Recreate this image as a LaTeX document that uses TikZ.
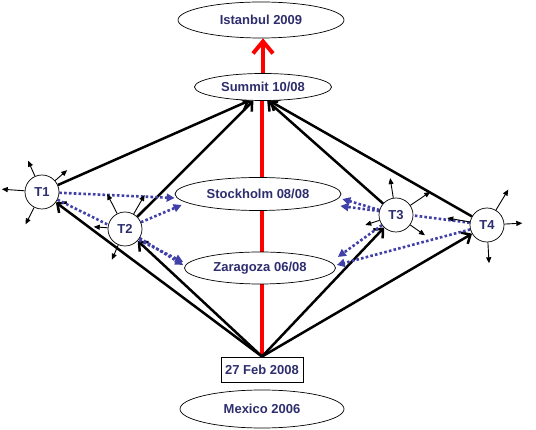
\documentclass[tikz,border=0pt]{standalone}
\usepackage{fontspec}
\setmainfont{Liberation Sans}
\usetikzlibrary{arrows.meta,shapes.geometric,backgrounds,calc}
\definecolor{txt}{RGB}{46,46,110}
\definecolor{dotc}{RGB}{64,64,168}
\begin{document}
\begin{tikzpicture}[x=1pt,y=1pt,
  every node/.style={font=\fontsize{13}{15}\selectfont\bfseries, text=txt},
  ell/.style={ellipse, draw, line width=0.7pt, fill=white, inner sep=0pt},
  team/.style={circle, draw, line width=0.7pt, fill=white, minimum size=34pt, inner sep=0pt},
  datebox/.style={rectangle, draw, line width=0.9pt, fill=white, minimum width=82pt, minimum height=25pt, inner sep=0pt},
  thickarrow/.style={line width=2.5pt, -{Straight Barb[length=7pt,width=13pt]}},
  redline/.style={red, line width=4pt},
  redarrow/.style={redline, -{Straight Barb[length=12pt,width=20pt]}},
  dotarrow/.style={dotc, line width=2.6pt, dash pattern=on 2.6pt off 2.2pt, -{Triangle[length=8pt,width=8pt]}},
  smallarrow/.style={black, line width=0.9pt, -{Triangle[length=6pt,width=5pt]}},
]
\useasboundingbox (0,0) rectangle (536,-430);

\node[ell, minimum width=166pt, minimum height=36pt] (istanbul) at (261,-20) {Istanbul 2009};
\node[ell, minimum width=137pt, minimum height=27pt] (summit) at (263,-87) {Summit 10/08};
\node[ell, minimum width=166pt, minimum height=33pt] (stockholm) at (258,-194) {Stockholm 08/08};
\node[ell, minimum width=151pt, minimum height=32pt] (zaragoza) at (260,-268) {Zaragoza 06/08};
\node[datebox] (feb) at (262,-369.5) {27 Feb 2008};
\node[ell, minimum width=164pt, minimum height=38pt] (mexico) at (262,-409) {Mexico 2006};

\node[team] (t1) at (42,-192) {T1};
\node[team] (t2) at (125,-229) {T2};
\node[team] (t3) at (396,-215) {T3};
\node[team] (t4) at (487,-225) {T4};

\begin{scope}[on background layer]
  % red spine
  \draw[redline] (feb.north) -- (feb.north |- summit.south);
  \draw[redarrow] (summit.north) -- (summit.north |- istanbul.south);
  % from 27 Feb to the teams
  \draw[thickarrow] (feb.north) -- (t1);
  \draw[thickarrow] (feb.north) -- (t2);
  \draw[thickarrow] (feb.north) -- (t3);
  \draw[thickarrow] (feb.north) -- (t4);
  % from the teams to the summit
  \draw[thickarrow] (t1) -- (summit.225);
  \draw[thickarrow] (t2) -- (summit.235);
  \draw[thickarrow] (t3) -- (summit.287);
  \draw[thickarrow] (t4) -- (summit.295);
  % dotted arrows to the meetings
  \draw[dotarrow] (t1) -- ($(stockholm.west)+(0,-4)$);
  \draw[dotarrow] (t2) -- ($(stockholm.west)+(7,-11)$);
  \draw[dotarrow] (t1) -- ($(zaragoza.west)+(-1,6)$);
  \draw[dotarrow] (t2) -- ($(zaragoza.west)+(-1,3)$);
  \draw[dotarrow] (t3) -- ($(stockholm.east)+(1,-5)$);
  \draw[dotarrow] (t4) -- ($(stockholm.east)+(-1,-12)$);
  \draw[dotarrow] (t3) -- ($(zaragoza.east)+(2,11)$);
  \draw[dotarrow] (t4) -- ($(zaragoza.east)+(1,3)$);
\end{scope}

% small arrows around the teams
\draw[smallarrow] (t1.114) -- ++(114:17);
\draw[smallarrow] (t1.41) -- ++(41:16);
\draw[smallarrow] (t1.176) -- ++(176:23);
\draw[smallarrow] (t1.243) -- ++(243:19);

\draw[smallarrow] (t2.117) -- ++(117:22);
\draw[smallarrow] (t2.60) -- ++(60:22);
\draw[smallarrow] (t2.176) -- ++(176:14);
\draw[smallarrow] (t2.247) -- ++(247:16);

\draw[smallarrow] (t3.99) -- ++(99:20);
\draw[smallarrow] (t3.34) -- ++(34:24);
\draw[smallarrow] (t3.325) -- ++(325:18);
\draw[smallarrow] (t3.198) -- ++(198:15);

\draw[smallarrow] (t4.59) -- ++(59:24);
\draw[smallarrow] (t4.3) -- ++(3:18);
\draw[smallarrow] (t4.273) -- ++(273:21);
\draw[smallarrow] (t4.170) -- ++(170:23);
\end{tikzpicture}
\end{document}
